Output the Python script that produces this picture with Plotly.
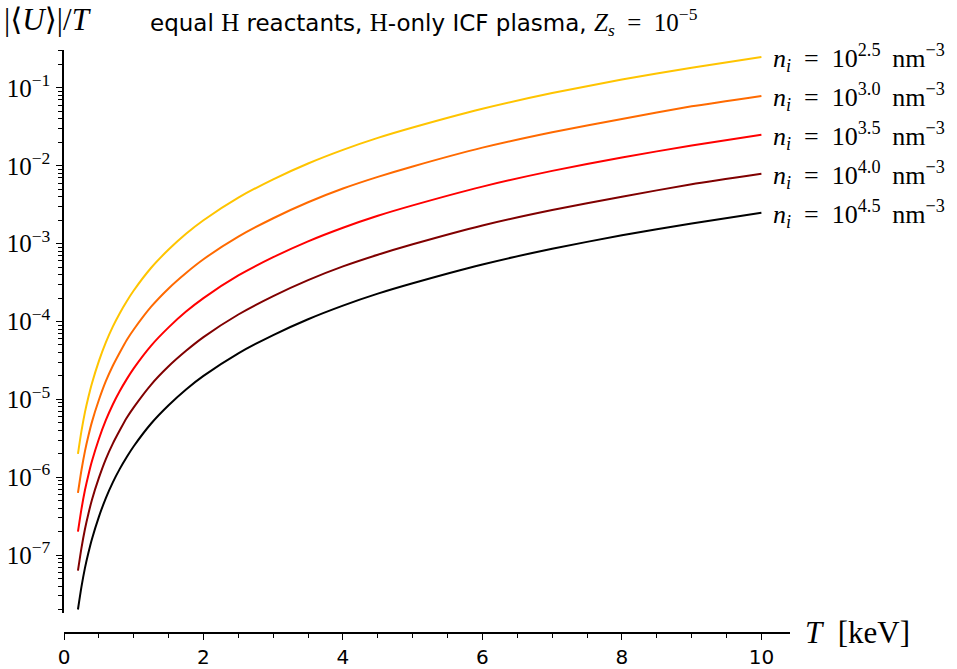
import math
import plotly.graph_objects as go

T_keV = [0.2, 0.25, 0.3, 0.35, 0.4, 0.5, 0.6, 0.7, 0.8, 0.9, 1.0, 1.25, 1.5, 1.75, 2.0, 2.5, 3.0, 3.5, 4.0, 4.5, 5.0, 6.0, 7.0, 8.0, 9.0, 10.0]

U_ni_2p5 = [2.0e-6, 3.9e-6, 6.8e-6, 1.07e-5, 1.6e-5, 3.1e-5, 5.4e-5, 8.6e-5, 1.28e-4, 1.82e-4, 2.5e-4, 4.9e-4, 8.4e-4, 1.34e-3, 2.0e-3, 3.9e-3, 6.7e-3, 1.07e-2, 1.6e-2, 2.28e-2, 3.1e-2, 5.4e-2, 8.6e-2, 0.128, 0.182, 0.25]
U_ni_3p0 = [6.3e-7, 1.23e-6, 2.15e-6, 3.4e-6, 5.1e-6, 9.8e-6, 1.71e-5, 2.7e-5, 4.0e-5, 5.8e-5, 7.9e-5, 1.55e-4, 2.66e-4, 4.2e-4, 6.3e-4, 1.23e-3, 2.12e-3, 3.4e-3, 5.1e-3, 7.2e-3, 9.8e-3, 1.71e-2, 2.7e-2, 4.0e-2, 5.8e-2, 7.9e-2]
U_ni_3p5 = [2.0e-7, 3.9e-7, 6.8e-7, 1.07e-6, 1.6e-6, 3.1e-6, 5.4e-6, 8.6e-6, 1.28e-5, 1.82e-5, 2.5e-5, 4.9e-5, 8.4e-5, 1.34e-4, 2.0e-4, 3.9e-4, 6.7e-4, 1.07e-3, 1.6e-3, 2.28e-3, 3.1e-3, 5.4e-3, 8.6e-3, 1.28e-2, 1.82e-2, 2.5e-2]
U_ni_4p0 = [6.3e-8, 1.23e-7, 2.15e-7, 3.4e-7, 5.1e-7, 9.8e-7, 1.71e-6, 2.7e-6, 4.0e-6, 5.8e-6, 7.9e-6, 1.55e-5, 2.66e-5, 4.2e-5, 6.3e-5, 1.23e-4, 2.12e-4, 3.4e-4, 5.1e-4, 7.2e-4, 9.8e-4, 1.71e-3, 2.7e-3, 4.0e-3, 5.8e-3, 7.9e-3]
U_ni_4p5 = [2.0e-8, 3.9e-8, 6.8e-8, 1.07e-7, 1.6e-7, 3.1e-7, 5.4e-7, 8.6e-7, 1.28e-6, 1.82e-6, 2.5e-6, 4.9e-6, 8.4e-6, 1.34e-5, 2.0e-5, 3.9e-5, 6.7e-5, 1.07e-4, 1.6e-4, 2.28e-4, 3.1e-4, 5.4e-4, 8.6e-4, 1.28e-3, 1.82e-3, 2.5e-3]

series = [U_ni_2p5, U_ni_3p0, U_ni_3p5, U_ni_4p0, U_ni_4p5]
exponents = ["2.5", "3.0", "3.5", "4.0", "4.5"]
colors = ["#FFC400", "#FF6A00", "#FF0000", "#800000", "#000000"]

ytick_vals = [1e-7, 1e-6, 1e-5, 1e-4, 1e-3, 1e-2, 1e-1]
ytick_text = ["10<sup>−7</sup>", "10<sup>−6</sup>", "10<sup>−5</sup>", "10<sup>−4</sup>",
              "10<sup>−3</sup>", "10<sup>−2</sup>", "10<sup>−1</sup>"]
xtick_vals = [0, 2, 4, 6, 8, 10]

SERIF = "Liberation Serif, DejaVu Serif, serif"
SANS = "DejaVu Sans, sans-serif"
SP = "&nbsp;&#8201;"
SP2 = "&nbsp;&nbsp;"

fig = go.Figure()
for vals, ex, col in zip(series, exponents, colors):
    fig.add_trace(go.Scatter(x=T_keV, y=vals, mode="lines",
                             line=dict(color=col, width=2, shape="spline", smoothing=0.6),
                             showlegend=False, hoverinfo="skip"))
    fig.add_annotation(x=T_keV[-1], y=math.log10(vals[-1]), xref="x", yref="y",
                       text=f"<i>n<sub>i</sub></i>{SP2}={SP2}10<sup>{ex}</sup>{SP}nm<sup>−3</sup>",
                       showarrow=False, xanchor="left", yanchor="middle", xshift=10, yshift=-1,
                       font=dict(family=SERIF, size=26, color="black"))

fig.update_layout(
    width=957, height=669,
    margin=dict(l=64, r=167, t=50, b=36, autoexpand=False),
    paper_bgcolor="white", plot_bgcolor="white",
    xaxis=dict(range=[0, 10.41], tickvals=xtick_vals, ticks="outside", ticklen=6, tickwidth=1.3,
               tickcolor="black", ticklabelstandoff=0, automargin=False,
               showline=True, linecolor="black", linewidth=1.5, showgrid=False, zeroline=False,
               anchor="free", position=0,
               tickfont=dict(family=SANS, size=20, color="black"),
               minor=dict(ticks="outside", ticklen=4, tickwidth=1, dtick=0.5, tickcolor="black", showgrid=False)),
    yaxis=dict(type="log", range=[-7.744, -0.513], domain=[0.0343, 1],
               tickvals=ytick_vals, ticktext=ytick_text, ticks="outside", ticklen=6, tickwidth=1.3,
               tickcolor="black", ticklabelstandoff=1, automargin=False,
               showline=True, linecolor="black", linewidth=1.5, showgrid=False, zeroline=False,
               tickfont=dict(family=SERIF, size=25, color="black"),
               minor=dict(ticks="outside", ticklen=4, tickwidth=1, dtick="D1", tickcolor="black", showgrid=False)),
)

# y-axis label at top-left
fig.add_annotation(xref="paper", yref="paper", x=-62 / 726, y=1 + 31 / 583, xanchor="left", yanchor="middle",
                   text="|⟨<i>U</i>⟩|/<i>T</i>", showarrow=False,
                   font=dict(family=SERIF, size=31, color="black"))
# title
fig.add_annotation(xref="paper", yref="paper", x=(148 - 64) / 726, y=1 + 28 / 583, xanchor="left", yanchor="middle",
                   text=("equal <span style='font-family:Liberation Serif;font-size:25px'>H</span> reactants, "
                         "<span style='font-family:Liberation Serif;font-size:25px'>H</span>-only ICF plasma, "
                         "<span style='font-family:Liberation Serif;font-size:25px'><i>Z<sub>s</sub></i>"
                         + SP2 + "=" + SP2 + "10<sup>−5</sup></span>"),
                   showarrow=False, font=dict(family=SANS, size=23, color="black"))
# x-axis label
fig.add_annotation(xref="paper", yref="paper", x=(803 - 64) / 726, y=1 / 583, xanchor="left",
                   yanchor="middle",
                   text="<i>T</i>&nbsp;&nbsp;[keV]", showarrow=False,
                   font=dict(family=SERIF, size=31, color="black"))

fig.write_html("out.html")
